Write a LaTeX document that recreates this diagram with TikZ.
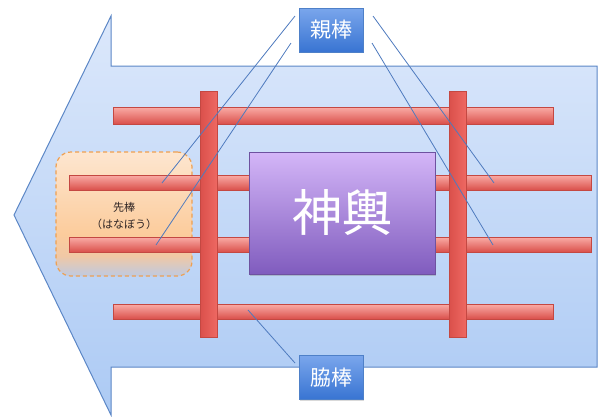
\documentclass[tikz,border=0pt]{standalone}
\usepackage{fontspec}
\setmainfont{Noto Sans CJK JP}
\usetikzlibrary{shadows,calc}
\definecolor{arrowtop}{RGB}{220,232,251}
\definecolor{arrowbot}{RGB}{172,202,244}
\definecolor{arrowline}{RGB}{92,135,198}
\definecolor{bartop}{RGB}{250,172,166}
\definecolor{barmid}{RGB}{238,104,98}
\definecolor{barbot}{RGB}{218,80,75}
\definecolor{barline}{RGB}{196,72,66}
\definecolor{mktop}{RGB}{212,182,248}
\definecolor{mkbot}{RGB}{128,92,190}
\definecolor{mkline}{RGB}{110,82,160}
\definecolor{labtop}{RGB}{122,166,236}
\definecolor{labbot}{RGB}{56,116,210}
\definecolor{labline}{RGB}{78,128,200}
\definecolor{hntop}{RGB}{253,230,208}
\definecolor{hnmid}{RGB}{252,204,156}
\definecolor{hnlow}{RGB}{240,200,165}
\definecolor{hnbot}{RGB}{190,202,226}
\definecolor{hnline}{RGB}{238,160,82}
\definecolor{conn}{RGB}{78,122,190}
\pgfdeclareverticalshading{hanaboshade}{100bp}{color(0bp)=(hnbot); color(25bp)=(hnbot); color(33bp)=(hnlow); color(42bp)=(hnmid); color(75bp)=(hntop); color(100bp)=(hntop)}
\tikzset{
  hbar/.style={draw=barline, line width=0.4pt, inner sep=0pt, top color=bartop, middle color=barmid, bottom color=barbot},
  vbar/.style={draw=barline, line width=0.4pt, inner sep=0pt, left color=barbot, middle color=bartop, right color=barmid, minimum width=17pt, minimum height=246pt},
  labelbox/.style={draw=labline, line width=0.6pt, inner sep=0pt, top color=labtop, bottom color=labbot, text=white, font=\fontsize{21}{21}\selectfont, minimum width=64pt, minimum height=44pt, drop shadow={shadow xshift=1pt, shadow yshift=-1.2pt, opacity=0.3}},
  connline/.style={draw=conn, line width=0.8pt}
}
\begin{document}
\begin{tikzpicture}[x=1pt,y=-1pt]
\useasboundingbox (0,0) rectangle (599,416);
% big arrow
\path[draw=arrowline, line width=1pt, top color=arrowtop, bottom color=arrowbot]
  (14,215) -- (111,16) -- (111,66) -- (597,66) -- (597,367) -- (111,367) -- (111,415) -- cycle;
% hanabo area
\node[draw=hnline, dash pattern=on 4pt off 3pt, line width=1.2pt, rounded corners=15pt,
  shading=hanaboshade,
  minimum width=136pt, minimum height=124pt, inner sep=0pt] (hanabo) at (124,214) {};
% horizontal bars
\node[hbar, minimum width=440pt, minimum height=17pt] (h1) at (333,115.5) {};
\node[hbar, minimum width=522pt, minimum height=15pt] (h2) at (330,182.5) {};
\node[hbar, minimum width=522pt, minimum height=15pt] (h3) at (330,244.5) {};
\node[hbar, minimum width=440pt, minimum height=15pt] (h4) at (333,311.5) {};
% vertical bars
\node[vbar] (v1) at (208.5,214) {};
\node[vbar] (v2) at (457.5,214) {};
% hanabo text
\node[align=center, text={rgb,255:red,45;green,35;blue,35}, font=\fontsize{11}{17}\selectfont, inner sep=0pt] (hanabotext) at (124,215.5) {先棒\\（はなぼう）};
% mikoshi
\node[draw=mkline, line width=0.5pt, top color=mktop, bottom color=mkbot, text=white,
  minimum width=186pt, minimum height=122pt, inner sep=0pt,
  font=\fontsize{50}{50}\selectfont,
  drop shadow={shadow xshift=1.2pt, shadow yshift=-1.5pt, opacity=0.35}] (mikoshi) at (342,213) {神輿};
% labels
\node[labelbox] (oya) at (331,30) {親棒};
\node[labelbox] (waki) at (331,377.5) {脇棒};
% connector end points
\coordinate (oA) at (295,16);
\coordinate (oB) at (291,43);
\coordinate (oC) at (373,16);
\coordinate (oD) at (372,43);
\coordinate (wE) at (295,363);
\coordinate (tA) at (162,183);
\coordinate (tB) at (156,245);
\coordinate (tC) at (494,183);
\coordinate (tD) at (493,245);
\coordinate (tE) at (248,310);
\draw[connline] (oA) -- (tA);
\draw[connline] (oB) -- (tB);
\draw[connline] (oC) -- (tC);
\draw[connline] (oD) -- (tD);
\draw[connline] (wE) -- (tE);
\end{tikzpicture}
\end{document}
